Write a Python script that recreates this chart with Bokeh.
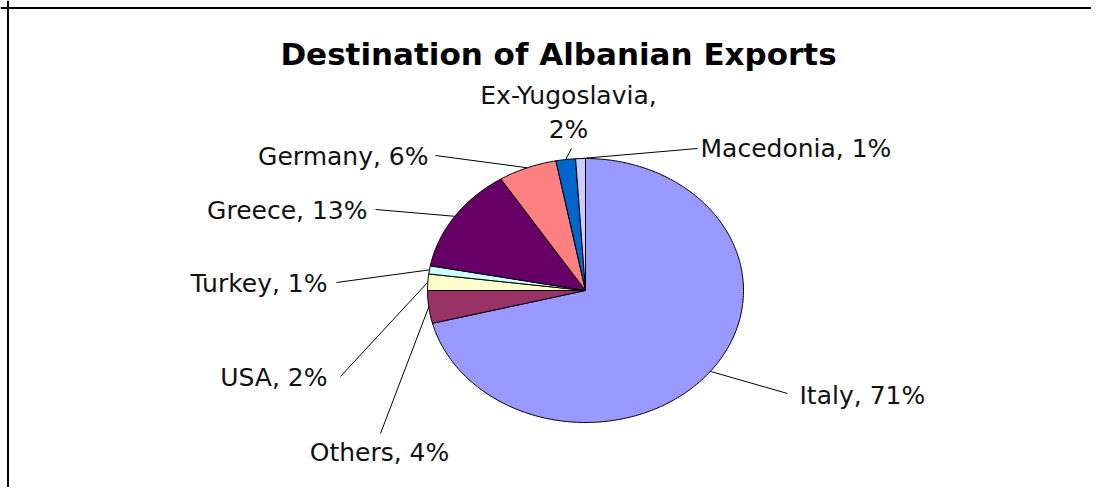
import numpy as np
from bokeh.plotting import figure
from bokeh.models import Range1d, Span, ColumnDataSource, Label
from bokeh.core.properties import value
from bokeh.embed import file_html
from bokeh.resources import INLINE

# ---------------- data ----------------
countries = ["Italy", "Others", "USA", "Turkey", "Greece", "Germany", "Ex-Yugoslavia", "Macedonia"]
shares = [71, 4, 2, 1, 13, 6, 2, 1]          # percent
colors = ["#9999FF", "#993366", "#FFFFCC", "#CCFFFF", "#660066", "#FF8080", "#0066CC", "#CCCCFF"]
title_text = "Destination of Albanian Exports"

# ---------------- layout (pixel-like coordinates, y downwards) ----------------
W, H = 1091, 487
CX, CY = 585.0, 290.0      # pie centre
RX, RY = 158.0, 132.0      # ellipse radii (stretched pie)

# label layout: text anchor, alignment, leader end point, wrap
label_layout = {
    "Italy":         dict(x=799, y=395, align="left",   lx=787, ly=393),
    "Others":        dict(x=379, y=452, align="center", lx=380, ly=433),
    "USA":           dict(x=327, y=377, align="right",  lx=340, ly=376),
    "Turkey":        dict(x=327, y=283, align="right",  lx=336, ly=282),
    "Greece":        dict(x=367, y=210, align="right",  lx=375, ly=209),
    "Germany":       dict(x=428, y=156, align="right",  lx=435, ly=155),
    "Ex-Yugoslavia": dict(x=568, y=112, align="center", lx=571, ly=148, wrap=True),
    "Macedonia":     dict(x=700, y=148, align="left",   lx=697, ly=148),
}

p = figure(width=W, height=H, output_backend="svg", toolbar_location=None,
           x_range=Range1d(0, W), y_range=Range1d(H, 0),
           min_border=0, outline_line_color=None, background_fill_color="white",
           border_fill_color="white")
p.axis.visible = False
p.grid.visible = False

# ---------------- slices ----------------
total = float(sum(shares))
fr = np.array(shares) / total
starts = np.concatenate([[0.0], np.cumsum(fr)[:-1]]) * 2 * np.pi
ends = np.cumsum(fr) * 2 * np.pi

xs, ys = [], []
for a0, a1 in zip(starts, ends):
    n = max(3, int((a1 - a0) / (2 * np.pi) * 400))
    t = np.linspace(a0, a1, n)
    xs.append([CX] + list(CX + RX * np.sin(t)) + [CX])
    ys.append([CY] + list(CY - RY * np.cos(t)) + [CY])

p.patches(xs=xs, ys=ys, fill_color=colors, line_color="black", line_width=1)

# ---------------- leader lines + labels ----------------
mids = (starts + ends) / 2
sx = CX + RX * np.sin(mids)
sy = CY - RY * np.cos(mids)

seg = dict(x0=[], y0=[], x1=[], y1=[])
groups = {"left": dict(x=[], y=[], t=[]), "right": dict(x=[], y=[], t=[]), "center": dict(x=[], y=[], t=[])}
for i, (c, s) in enumerate(zip(countries, shares)):
    L = label_layout[c]
    seg["x0"].append(sx[i]); seg["y0"].append(sy[i])
    seg["x1"].append(L["lx"]); seg["y1"].append(L["ly"])
    sep = ",\n" if L.get("wrap") else ", "
    g = groups[L["align"]]
    g["x"].append(L["x"]); g["y"].append(L["y"]); g["t"].append(f"{c}{sep}{s}%")

p.segment(x0="x0", y0="y0", x1="x1", y1="y1", source=ColumnDataSource(seg),
          line_color="black", line_width=1)

for align, g in groups.items():
    p.text(x="x", y="y", text="t", source=ColumnDataSource(g),
           text_align=align, text_baseline="middle",
           text_font=value("DejaVu Sans"), text_font_size="25px",
           text_color="#111111", text_line_height=1.15)

# ---------------- title ----------------
p.add_layout(Label(x=558, y=53, text=title_text, text_align="center",
                   text_baseline="alphabetic", text_font="DejaVu Sans",
                   text_font_style="bold", text_font_size="31px", text_color="black"))

# ---------------- chart frame (left and top edges visible) ----------------
p.add_layout(Span(location=7.5, dimension="height", line_color="black", line_width=2))
p.add_layout(Span(location=7.5, dimension="width", line_color="black", line_width=2))

open("out.html", "w").write(file_html(p, INLINE))
